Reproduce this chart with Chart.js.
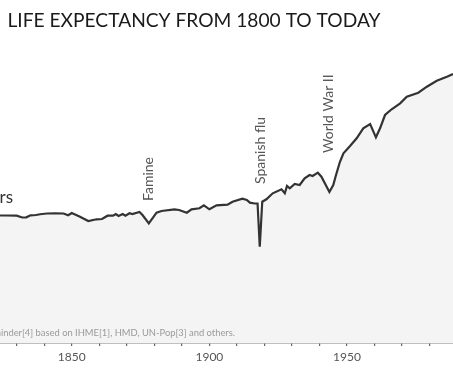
<!DOCTYPE html>
<html><head><meta charset="utf-8">
<script src="https://cdn.jsdelivr.net/npm/chart.js@4"></script>
<style>html,body{margin:0;padding:0;background:#fff}canvas{display:block}</style>
</head><body>
<canvas id="c" width="453" height="378"></canvas>
<script>
const chartTitle = 'LIFE EXPECTANCY FROM 1800 TO TODAY';
const sourceNote = 'Data source: Gapminder[4] based on IHME[1], HMD, UN-Pop[3] and others.';
const startLabel = '29 years';
const labelledYears = [1850, 1900, 1950];
const eventNames = ['Famine', 'Spanish flu', 'World War II'];
const eventYears = [1877.8, 1918.4, 1943.2];

const years = [1822,1826,1830,1832,1833.5,1835,1837,1838.5,1841,1844,1847,1848.7,1850,1853,1856,1859,1861,1863,1865,1866,1867,1868.5,1869.5,1871,1872,1874.6,1875.7,1878,1880.8,1882.6,1887.3,1889,1891.8,1893.5,1896.4,1898,1900,1902.6,1906.6,1908.4,1912,1913.6,1914.7,1916.5,1917.5,1918.3,1919.2,1920.7,1923,1926.2,1927.4,1928.2,1929.2,1931,1932.8,1934.6,1936.4,1937.5,1939.4,1940.7,1943.6,1945,1945.9,1947.4,1948.7,1951.1,1953.5,1955.9,1958.4,1960.5,1962,1963.8,1966.2,1969.3,1971.7,1975.9,1979,1982.6,1986.3,1988.5,1990];
const lifeExpectancy = [28.35,28.34,28.29,27.83,27.88,28.39,28.47,28.65,28.85,28.9,28.85,28.39,28.97,28.04,26.95,27.38,27.45,28.29,28.29,28.72,28.21,28.72,28.29,28.9,28.72,29.23,28.47,26.36,29.05,29.48,29.91,29.74,29.05,29.91,30.17,30.93,29.91,30.93,31.08,31.84,32.6,32.27,31.59,31.38,31.38,20.43,31.84,32.45,33.97,34.98,33.97,35.82,35.24,36.33,36.08,37.78,38.61,38.36,39.2,38.18,34.3,36.08,38.36,41.91,44.12,45.97,47.92,50.46,51.55,48.17,50.46,53.83,55.28,56.8,58.47,59.49,61.01,62.53,63.55,64.23,64.6];

const FONT = 'Lato, "Open Sans", sans-serif';

const textPlugin = {
  id: 'texts',
  afterDraw(chart) {
    const ctx = chart.ctx;
    const xs = chart.scales.x;
    // title
    ctx.save();
    ctx.fillStyle = '#1a1a1a';
    ctx.font = '19px ' + FONT;
    ctx.textBaseline = 'alphabetic';
    ctx.textAlign = 'left';
    const w = ctx.measureText(chartTitle).width;
    ctx.translate(7.5, 26.8);
    ctx.scale(373 / w, 1);
    ctx.fillText(chartTitle, 0, 0);
    ctx.restore();
    // start label (cropped)
    ctx.save();
    ctx.fillStyle = '#333';
    ctx.font = '17px ' + FONT;
    ctx.textAlign = 'right';
    ctx.textBaseline = 'alphabetic';
    ctx.fillText(startLabel, 13, 203);
    ctx.restore();
    // source note
    ctx.save();
    ctx.fillStyle = '#9a9a9a';
    ctx.font = '9.4px ' + FONT;
    ctx.textAlign = 'right';
    ctx.textBaseline = 'alphabetic';
    ctx.fillText(sourceNote, 235, 336);
    ctx.restore();
    // events
    const bottoms = [201, 184, 153];
    eventNames.forEach((name, i) => {
      const x = xs.getPixelForValue(eventYears[i]);
      ctx.save();
      ctx.fillStyle = '#555';
      ctx.font = '14px ' + FONT;
      ctx.translate(x, bottoms[i]);
      ctx.rotate(-Math.PI / 2);
      ctx.textAlign = 'left';
      ctx.textBaseline = 'middle';
      ctx.fillText(name, 0, 0);
      ctx.restore();
    });
  }
};

new Chart(document.getElementById('c'), {
  type: 'line',
  data: {
    datasets: [{
      data: years.map((y, i) => ({ x: y, y: lifeExpectancy[i] })),
      borderColor: '#333333',
      borderWidth: 2.2,
      backgroundColor: '#f4f4f4',
      fill: 'start',
      pointRadius: 0,
      tension: 0
    }]
  },
  options: {
    responsive: false,
    animation: false,
    layout: { padding: 0 },
    plugins: { legend: { display: false }, tooltip: { enabled: false } },
    scales: {
      x: {
        type: 'linear',
        min: 1823.93,
        max: 1988.5,
        afterFit: s => { s.height = 35; },
        grid: { drawOnChartArea: false, drawTicks: true, tickLength: 3, color: '#666', lineWidth: 1.2 },
        border: { display: true, color: '#808080', width: 1.5 },
        ticks: {
          stepSize: 10,
          includeBounds: false,
          autoSkip: false,
          maxRotation: 0,
          padding: 4,
          color: '#555',
          font: { family: FONT, size: 12 },
          callback: v => labelledYears.includes(v) ? String(v) : ''
        }
      },
      y: { display: false, min: -4, max: 83 }
    }
  },
  plugins: [textPlugin]
});
</script>
</body></html>
